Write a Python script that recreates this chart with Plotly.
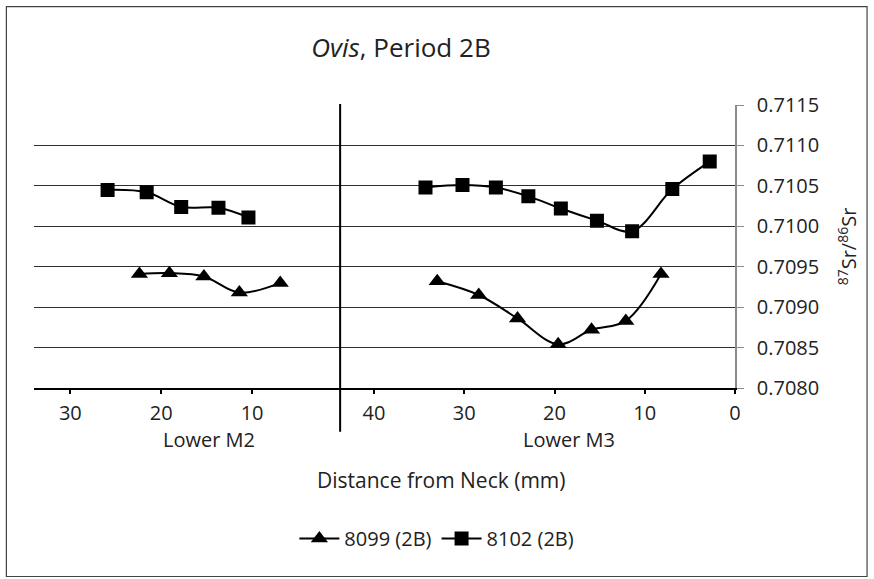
import plotly.graph_objects as go

# ---- data ----
m2_x_8099 = [22.4, 19.1, 15.3, 11.4, 6.9]
m2_y_8099 = [0.70941, 0.70942, 0.70938, 0.70918, 0.70930]
m2_x_8102 = [25.9, 21.6, 17.8, 13.7, 10.4]
m2_y_8102 = [0.71045, 0.71042, 0.71024, 0.71023, 0.71011]

m3_x_8099 = [33.0, 28.4, 24.1, 19.6, 15.9, 12.1, 8.2]
m3_y_8099 = [0.70932, 0.70915, 0.70886, 0.70854, 0.70872, 0.70883, 0.70941]
m3_x_8102 = [34.3, 30.2, 26.5, 22.9, 19.3, 15.3, 11.4, 6.95, 2.8]
m3_y_8102 = [0.71048, 0.71051, 0.71048, 0.71037, 0.71022, 0.71007, 0.70994, 0.71046, 0.71080]

m2_ticks = [30, 20, 10]
m3_ticks = [40, 30, 20, 10, 0]
y_ticks = [0.7080, 0.7085, 0.7090, 0.7095, 0.7100, 0.7105, 0.7110, 0.7115]
series_names = ["8099 (2B)", "8102 (2B)"]
group_labels = ["Lower M2", "Lower M3"]

FONT = "Open Sans"
TXT = "#222"
W, H = 874, 579
L, R, T, B = 34.3, 735.0, 105.0, 388.3  # plot area in pixels
PW, PH = R - L, B - T


def px(xp):
    return (xp - L) / PW


def py(yp):
    return (B - yp) / PH


split = px(340.3)

fig = go.Figure()
line = dict(color="black", width=2, shape="spline", smoothing=1)

fig.add_trace(go.Scatter(x=m2_x_8099, y=m2_y_8099, xaxis="x", yaxis="y", mode="lines+markers",
                         line=line, marker=dict(symbol="triangle-up", size=15, color="black"),
                         name=series_names[0], showlegend=False, legendgroup="a"))
fig.add_trace(go.Scatter(x=m2_x_8102, y=m2_y_8102, xaxis="x", yaxis="y", mode="lines+markers",
                         line=line, marker=dict(symbol="square", size=14, color="black"),
                         name=series_names[1], showlegend=False, legendgroup="b"))
fig.add_trace(go.Scatter(x=m3_x_8099, y=m3_y_8099, xaxis="x2", yaxis="y", mode="lines+markers",
                         line=line, marker=dict(symbol="triangle-up", size=15, color="black"),
                         name=series_names[0], legendgroup="a"))
fig.add_trace(go.Scatter(x=m3_x_8102, y=m3_y_8102, xaxis="x2", yaxis="y", mode="lines+markers",
                         line=line, marker=dict(symbol="square", size=14, color="black"),
                         name=series_names[1], legendgroup="b"))

xcommon = dict(showgrid=False, zeroline=False, showline=True, linecolor="black", linewidth=1.5,
               ticks="outside", ticklen=4, tickwidth=2, tickcolor="black",
               tickfont=dict(family=FONT, size=20, color=TXT), ticklabelstandoff=2)

fig.update_layout(
    width=W, height=H,
    margin=dict(l=L, r=W - R, t=T, b=H - B),
    paper_bgcolor="white", plot_bgcolor="white",
    font=dict(family=FONT, color=TXT),
    title=dict(text="<i>Ovis</i>, Period 2B", x=401 / W, xanchor="center",
               y=1 - 48 / H, yanchor="middle", xref="container", yref="container",
               font=dict(family=FONT, size=26, color=TXT)),
    xaxis=dict(domain=[0, split], range=[34.0, 0.31], tickvals=m2_ticks, anchor="y", **xcommon),
    xaxis2=dict(domain=[split, 1], range=[43.76, 0], tickvals=m3_ticks, anchor="y", **xcommon),
    yaxis=dict(range=[0.7080, 0.7115], tickvals=y_ticks, tickformat=".4f", side="right", anchor="x2",
               showgrid=True, gridcolor="#2e2e2e", gridwidth=1, zeroline=False,
               showline=True, linecolor="#8c8c8c", linewidth=1.5,
               ticks="outside", ticklen=7, tickcolor="#8c8c8c",
               tickfont=dict(family=FONT, size=20, color=TXT), ticklabelstandoff=9,
               title=dict(text="<sup>87</sup>Sr/<sup>86</sup>Sr", standoff=24,
                          font=dict(family=FONT, size=20, color=TXT))),
    legend=dict(orientation="h", x=px(437), y=py(539), xanchor="center", yanchor="middle",
                font=dict(family=FONT, size=20, color=TXT), bgcolor="rgba(0,0,0,0)",
                itemwidth=40, tracegroupgap=0),
    showlegend=True,
)

# group labels and axis title
ann = dict(xref="paper", yref="paper", showarrow=False, xanchor="center", yanchor="middle")
fig.add_annotation(text=group_labels[0], x=px(209), y=py(440),
                   font=dict(family=FONT, size=20, color=TXT), **ann)
fig.add_annotation(text=group_labels[1], x=px(569), y=py(440),
                   font=dict(family=FONT, size=20, color=TXT), **ann)
fig.add_annotation(text="Distance from Neck (mm)", x=px(441), y=py(480),
                   font=dict(family=FONT, size=21, color=TXT), **ann)

# divider between the two groups
fig.add_shape(type="line", xref="paper", yref="paper", x0=split, x1=split, y0=py(432), y1=py(104),
              line=dict(color="black", width=2))
# chart border
fig.add_shape(type="rect", xref="paper", yref="paper", x0=px(6.7), x1=px(867), y0=py(577), y1=py(6.6),
              line=dict(color="#444", width=1.2))

fig.write_html("out.html")
